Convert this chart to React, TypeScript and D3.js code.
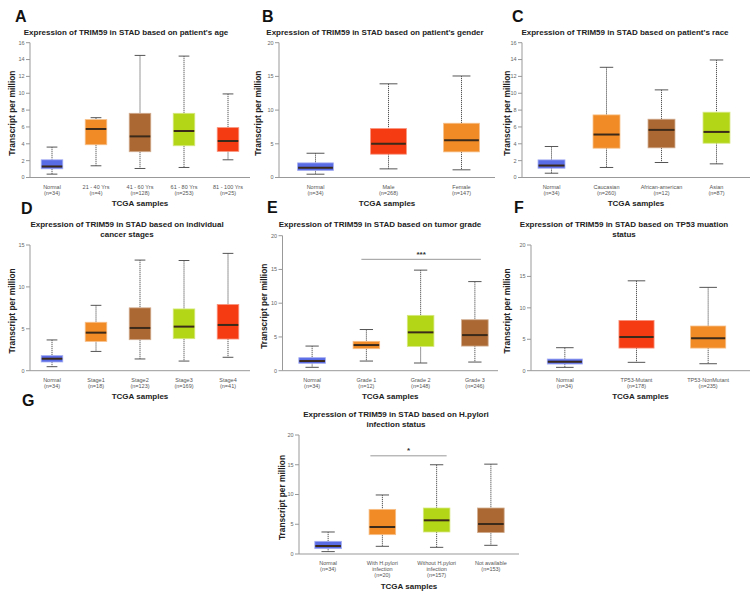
import * as d3 from 'd3';

// [whisker low, q1, median, q3, whisker high]
const ageGroups = [['Normal'], ['21 - 40 Yrs'], ['41 - 60 Yrs'], ['61 - 80 Yrs'], ['81 - 100 Yrs']];
const ageCounts = ['(n=34)', '(n=4)', '(n=128)', '(n=253)', '(n=25)'];
const ageStats = [
  [0.4, 1.03, 1.31, 2.1, 3.61],
  [1.39, 3.89, 5.76, 6.87, 7.1],
  [1.07, 3.06, 4.88, 7.62, 14.49],
  [1.19, 3.77, 5.52, 7.62, 14.41],
  [2.1, 3.1, 4.33, 5.92, 9.92],
];

const genderGroups = [['Normal'], ['Male'], ['Female']];
const genderCounts = ['(n=34)', '(n=268)', '(n=147)'];
const genderStats = [
  [0.49, 1.04, 1.43, 2.17, 3.6],
  [1.28, 3.46, 4.99, 7.26, 13.9],
  [1.14, 3.8, 5.53, 8.05, 15.06],
];

const raceGroups = [['Normal'], ['Caucasian'], ['African-american'], ['Asian']];
const raceCounts = ['(n=34)', '(n=260)', '(n=12)', '(n=87)'];
const raceStats = [
  [0.51, 1.1, 1.42, 2.09, 3.68],
  [1.19, 3.48, 5.1, 7.43, 13.08],
  [1.78, 3.52, 5.65, 6.92, 10.4],
  [1.62, 4.07, 5.41, 7.75, 13.95],
];

const stageGroups = [['Normal'], ['Stage1'], ['Stage2'], ['Stage3'], ['Stage4']];
const stageCounts = ['(n=34)', '(n=18)', '(n=123)', '(n=169)', '(n=41)'];
const stageStats = [
  [0.48, 1.04, 1.43, 1.8, 3.67],
  [2.3, 3.5, 4.54, 5.78, 7.8],
  [1.4, 3.7, 5.1, 7.5, 13.2],
  [1.15, 3.82, 5.26, 7.37, 13.15],
  [1.6, 3.78, 5.46, 7.9, 14.0],
];

const gradeGroups = [['Normal'], ['Grade 1'], ['Grade 2'], ['Grade 3']];
const gradeCounts = ['(n=34)', '(n=12)', '(n=148)', '(n=246)'];
const gradeStats = [
  [0.5, 1.09, 1.43, 1.93, 3.65],
  [1.43, 3.26, 3.8, 4.35, 6.1],
  [1.14, 3.6, 5.68, 8.2, 14.9],
  [1.28, 3.65, 5.28, 7.55, 13.2],
];

const tp53Groups = [['Normal'], ['TP53-Mutant'], ['TP53-NonMutant']];
const tp53Counts = ['(n=34)', '(n=178)', '(n=235)'];
const tp53Stats = [
  [0.53, 1.06, 1.43, 1.86, 3.66],
  [1.33, 3.6, 5.36, 8.0, 14.3],
  [1.11, 3.6, 5.15, 7.11, 13.26],
];

const hpGroups = [['Normal'], ['With H.pylori', 'infection'], ['Without H.pylori', 'infection'], ['Not available']];
const hpCounts = ['(n=34)', '(n=20)', '(n=157)', '(n=153)'];
const hpStats = [
  [0.4, 0.9, 1.34, 2.13, 3.7],
  [1.29, 3.25, 4.54, 7.5, 9.92],
  [1.12, 3.7, 5.66, 7.73, 15.0],
  [1.46, 3.6, 5.04, 7.73, 15.1],
];

const BLUE = '#5a6be6';
const ORANGE = '#f08b26';
const BROWN = '#ab6833';
const LIME = '#b3d617';
const RED = '#f43b12';

const FONT = 'Arial, "Liberation Sans", sans-serif';

interface Panel {
  letter: string;
  lx: number;
  ly: number;
  title: string[];
  tx: number;
  ty: number;
  groups: string[][];
  counts: string[];
  stats: number[][];
  colors: string[];
  axisX: number;
  xRange: [number, number];
  xEnd: number;
  yTop: number;
  yBottom: number;
  yMax: number;
  tickStep: number;
  ylabX: number;
  sig?: { from: number; to: number; value: number; label: string; d0: number; d1: number };
}

const panels: Panel[] = [
  {
    letter: 'A', lx: 15, ly: 22,
    title: ["Expression of TRIM59 in STAD based on patient's age"], tx: 126, ty: 35,
    groups: ageGroups, counts: ageCounts, stats: ageStats,
    colors: [BLUE, ORANGE, BROWN, LIME, RED],
    axisX: 30, xRange: [30, 250], xEnd: 250, yTop: 42.7, yBottom: 177.5, yMax: 16, tickStep: 2, ylabX: 12,
  },
  {
    letter: 'B', lx: 262, ly: 22,
    title: ["Expression of TRIM59 in STAD based on patient's gender"], tx: 375, ty: 35,
    groups: genderGroups, counts: genderCounts, stats: genderStats,
    colors: [BLUE, RED, ORANGE],
    axisX: 279, xRange: [279, 498], xEnd: 495, yTop: 42.7, yBottom: 177.5, yMax: 20, tickStep: 5, ylabX: 258,
  },
  {
    letter: 'C', lx: 512, ly: 22,
    title: ["Expression of TRIM59 in STAD based on patient's race"], tx: 625, ty: 35,
    groups: raceGroups, counts: raceCounts, stats: raceStats,
    colors: [BLUE, ORANGE, BROWN, LIME],
    axisX: 522, xRange: [524, 744], xEnd: 750, yTop: 42.7, yBottom: 177.5, yMax: 16, tickStep: 2, ylabX: 507,
  },
  {
    letter: 'D', lx: 21, ly: 214,
    title: ['Expression of TRIM59 in STAD based on individual', 'cancer stages'], tx: 127, ty: 227,
    groups: stageGroups, counts: stageCounts, stats: stageStats,
    colors: [BLUE, ORANGE, BROWN, LIME, RED],
    axisX: 30, xRange: [30, 250], xEnd: 250, yTop: 245, yBottom: 370.7, yMax: 15, tickStep: 5, ylabX: 12,
  },
  {
    letter: 'E', lx: 267, ly: 213,
    title: ['Expression of TRIM59 in STAD based on tumor grade'], tx: 380, ty: 227,
    groups: gradeGroups, counts: gradeCounts, stats: gradeStats,
    colors: [BLUE, ORANGE, LIME, BROWN],
    axisX: 282.5, xRange: [285, 502], xEnd: 498, yTop: 235.7, yBottom: 370.7, yMax: 20, tickStep: 5, ylabX: 264,
    sig: { from: 1, to: 3, value: 16.5, label: '***', d0: -5, d1: 6 },
  },
  {
    letter: 'F', lx: 514, ly: 213,
    title: ['Expression of TRIM59 in STAD based on TP53 muation', 'status'], tx: 624, ty: 227,
    groups: tp53Groups, counts: tp53Counts, stats: tp53Stats,
    colors: [BLUE, RED, ORANGE],
    axisX: 531, xRange: [529, 744], xEnd: 750, yTop: 245, yBottom: 370.7, yMax: 20, tickStep: 5, ylabX: 507,
  },
  {
    letter: 'G', lx: 22, ly: 406,
    title: ['Expression of TRIM59 in STAD based on H.pylori', 'infection status'], tx: 396, ty: 417,
    groups: hpGroups, counts: hpCounts, stats: hpStats,
    colors: [BLUE, ORANGE, LIME, BROWN],
    axisX: 299, xRange: [301, 518], xEnd: 519, yTop: 435, yBottom: 554, yMax: 20, tickStep: 5, ylabX: 282,
    sig: { from: 1, to: 2, value: 16.5, label: '*', d0: -12, d1: 10 },
  },
];

function BoxPanel({ p }: { p: Panel }) {
  const keys = p.groups.map((g) => g.join(' '));
  const x = d3.scaleBand<string>().domain(keys).range(p.xRange);
  const y = d3.scaleLinear().domain([0, p.yMax]).range([p.yBottom, p.yTop]);
  const ticks = d3.range(0, p.yMax + 0.001, p.tickStep);
  const bw = x.step() * 0.49;
  const cx = (i: number) => (x(keys[i]) ?? 0) + x.bandwidth() / 2;
  const maxLines = d3.max(p.groups, (g) => g.length + 1) ?? 2;
  const labelBase = p.yBottom + 11;
  const tcgaY = labelBase + (maxLines - 1) * 6 + 11.5;

  return (
    <g>
      <text x={p.lx} y={p.ly} fontSize={16} fontWeight="bold" fill="#111">{p.letter}</text>
      {p.title.map((t, i) => (
        <text key={i} x={p.tx} y={p.ty + i * 10} textAnchor="middle" fontSize={8} fontWeight="bold" fill="#222">{t}</text>
      ))}
      <text
        transform={`translate(${p.ylabX},${(p.yTop + p.yBottom) / 2 + 3}) rotate(-90)`}
        textAnchor="middle" dominantBaseline="central" fontSize={8.4} fontWeight="bold" fill="#222"
      >Transcript per million</text>

      {/* y axis */}
      <line x1={p.axisX} x2={p.axisX} y1={y(p.yMax)} y2={y(0)} stroke="#999" strokeWidth={1} />
      {ticks.map((t) => (
        <g key={t}>
          <line x1={p.axisX - 4} x2={p.axisX} y1={y(t)} y2={y(t)} stroke="#999" strokeWidth={1} />
          <text x={p.axisX - 5.5} y={y(t)} dy="0.35em" textAnchor="end" fontSize={5.5} fill="#666">{t}</text>
        </g>
      ))}
      {/* x axis */}
      <line x1={p.axisX} x2={p.xEnd} y1={y(0)} y2={y(0)} stroke="#999" strokeWidth={1} />

      {p.stats.map((s, i) => {
        const c = cx(i);
        const [lo, q1, med, q3, hi] = s;
        const col = p.colors[i];
        return (
          <g key={i}>
            <line x1={c} x2={c} y1={y(hi)} y2={y(q3)} stroke="#555" strokeWidth={1} strokeDasharray="1.2,0.8" />
            <line x1={c} x2={c} y1={y(q1)} y2={y(lo)} stroke="#555" strokeWidth={1} strokeDasharray="1.2,0.8" />
            <line x1={c - bw / 4} x2={c + bw / 4} y1={y(hi)} y2={y(hi)} stroke="#555" strokeWidth={1} />
            <line x1={c - bw / 4} x2={c + bw / 4} y1={y(lo)} y2={y(lo)} stroke="#555" strokeWidth={1} />
            <rect
              x={c - bw / 2} y={y(q3)} width={bw} height={y(q1) - y(q3)}
              fill={col} stroke={d3.interpolateRgb(col, '#fff')(0.45)} strokeWidth={0.8}
            />
            <line x1={c - bw / 2 + 0.5} x2={c + bw / 2 - 0.5} y1={y(med)} y2={y(med)} stroke="#3b2a1a" strokeWidth={2} />
            {[...p.groups[i], p.counts[i]].map((t, k) => (
              <text key={k} x={c} y={labelBase + k * 6} textAnchor="middle" fontSize={5.5} fill="#555">{t}</text>
            ))}
          </g>
        );
      })}

      {p.sig && (
        <g>
          <line
            x1={cx(p.sig.from) + p.sig.d0} x2={cx(p.sig.to) + p.sig.d1}
            y1={y(p.sig.value)} y2={y(p.sig.value)} stroke="#999" strokeWidth={1}
          />
          <text
            x={(cx(p.sig.from) + p.sig.d0 + cx(p.sig.to) + p.sig.d1) / 2} y={y(p.sig.value) - 2.5}
            textAnchor="middle" fontSize={8} fontWeight="bold" fill="#333"
          >{p.sig.label}</text>
        </g>
      )}

      <text x={(p.axisX + p.xEnd) / 2} y={tcgaY} textAnchor="middle" fontSize={8} fontWeight="bold" fill="#222">TCGA samples</text>
    </g>
  );
}

export default function App() {
  return (
    <svg
      width={750}
      height={596}
      viewBox="0 0 750 596"
      style={{ position: 'absolute', left: 0, top: 0, background: '#fff' }}
      fontFamily={FONT}
    >
      <rect width={750} height={596} fill="#fff" />
      {panels.map((p) => (
        <BoxPanel key={p.letter} p={p} />
      ))}
    </svg>
  );
}
